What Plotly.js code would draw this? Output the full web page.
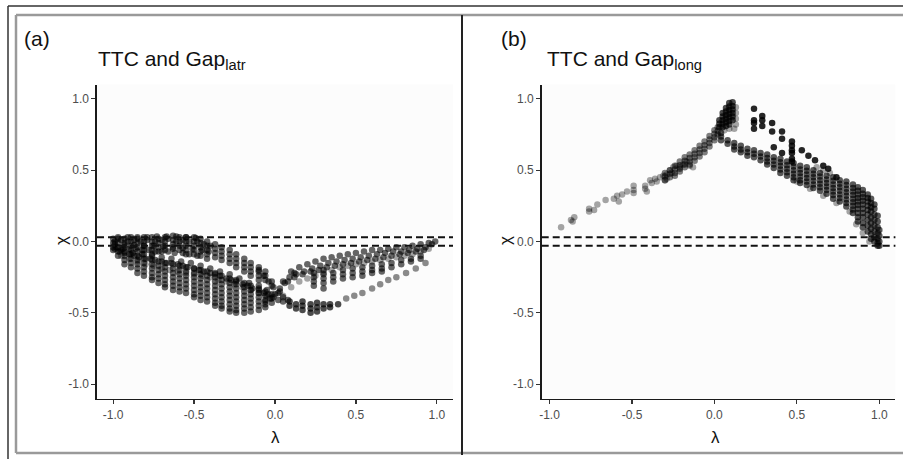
<!DOCTYPE html>
<html>
<head>
<meta charset="utf-8">
<script src="https://cdn.plot.ly/plotly-3.0.1.min.js"></script>
<style>html,body{margin:0;padding:0;background:#fff;}#chart{width:903px;height:459px;}</style>
</head>
<body>
<div id="chart"></div>
<script>
// ---------- Panel (a): TTC and Gap_latr ----------
const aColLambda = [-1.00,-0.97,-0.93,-0.89,-0.85,-0.81,-0.76,-0.72,-0.68,-0.63,-0.59,-0.55,-0.50,-0.46,-0.42,-0.37,-0.33,-0.28,-0.24,-0.19,-0.15,-0.10,-0.06,-0.02];
const aColChi = [
 [0.02,-0.01,-0.04,-0.06],
 [0.02,-0.01,-0.04,-0.07,-0.10],
 [0.02,-0.01,-0.04,-0.07,-0.10,-0.13,-0.16],
 [0.03,0.00,-0.03,-0.06,-0.09,-0.12,-0.15,-0.18],
 [0.02,-0.01,-0.04,-0.07,-0.10,-0.13,-0.16,-0.19,-0.22],
 [0.03,0.00,-0.03,-0.06,-0.09,-0.12,-0.15,-0.18,-0.21,-0.24],
 [0.03,0.00,-0.03,-0.06,-0.09,-0.13,-0.16,-0.19,-0.22,-0.25,-0.27],
 [0.02,-0.01,-0.04,-0.07,-0.14,-0.17,-0.20,-0.23,-0.26,-0.29],
 [0.03,0.00,-0.03,-0.06,-0.15,-0.18,-0.21,-0.24,-0.27,-0.30,-0.32],
 [0.04,0.01,-0.02,-0.05,-0.16,-0.19,-0.22,-0.25,-0.28,-0.31,-0.34],
 [0.03,0.00,-0.03,-0.06,-0.17,-0.20,-0.23,-0.26,-0.29,-0.32,-0.35],
 [0.03,0.00,-0.03,-0.06,-0.09,-0.18,-0.21,-0.24,-0.27,-0.30,-0.33,-0.36],
 [0.03,0.00,-0.03,-0.06,-0.09,-0.19,-0.22,-0.25,-0.28,-0.31,-0.34,-0.37,-0.39],
 [0.02,-0.01,-0.04,-0.07,-0.10,-0.20,-0.23,-0.26,-0.29,-0.32,-0.35,-0.38,-0.41],
 [0.00,-0.03,-0.06,-0.09,-0.12,-0.21,-0.24,-0.27,-0.30,-0.33,-0.36,-0.39,-0.42],
 [-0.02,-0.05,-0.08,-0.11,-0.22,-0.25,-0.28,-0.31,-0.34,-0.37,-0.40,-0.43,-0.45],
 [-0.04,-0.07,-0.10,-0.13,-0.24,-0.27,-0.30,-0.33,-0.36,-0.39,-0.42,-0.45,-0.47],
 [-0.06,-0.09,-0.12,-0.15,-0.26,-0.29,-0.32,-0.35,-0.38,-0.41,-0.44,-0.47,-0.49],
 [-0.09,-0.12,-0.15,-0.18,-0.27,-0.30,-0.33,-0.36,-0.39,-0.42,-0.45,-0.48,-0.50],
 [-0.12,-0.15,-0.18,-0.21,-0.29,-0.32,-0.35,-0.38,-0.41,-0.44,-0.47,-0.50],
 [-0.15,-0.18,-0.21,-0.24,-0.31,-0.34,-0.37,-0.40,-0.43,-0.46,-0.49],
 [-0.18,-0.21,-0.24,-0.27,-0.33,-0.36,-0.39,-0.42,-0.45,-0.48],
 [-0.21,-0.24,-0.27,-0.35,-0.38,-0.41,-0.44,-0.46],
 [-0.28,-0.31,-0.37,-0.40,-0.43]
];
const aTopBand = [[-0.99,0.00],[-0.95,0.01],[-0.91,0.00],[-0.87,0.01],[-0.83,0.00],[-0.79,0.01],[-0.74,0.00],[-0.70,0.01],[-0.66,0.02],[-0.61,0.00],[-0.57,0.01],[-0.53,0.00],[-0.48,0.00],[-0.44,-0.02],[-0.40,-0.03],
 [-0.98,-0.04],[-0.94,-0.05],[-0.90,-0.05],[-0.86,-0.05],[-0.82,-0.06],[-0.78,-0.06],[-0.74,-0.07],[-0.70,-0.07],[-0.66,-0.07],[-0.62,-0.08],[-0.57,-0.08],[-0.53,-0.09],[-0.48,-0.10],
 [-0.97,0.03],[-0.91,0.03],[-0.85,0.03],[-0.79,0.03],[-0.73,0.035],[-0.67,0.035],[-0.61,0.035],[-0.55,0.03],[-0.49,0.025],
 [-0.99,-0.02],[-0.93,-0.025],[-0.87,-0.025],[-0.81,-0.03],[-0.75,-0.03],[-0.69,-0.035],[-0.63,-0.04],[-0.57,-0.045],[-0.51,-0.05],[-0.45,-0.06],[-0.41,-0.07]];
const aMidCurve = [[-0.99,-0.05],[-0.96,-0.07],[-0.93,-0.08],[-0.90,-0.09],[-0.87,-0.10],[-0.84,-0.11],[-0.80,-0.12],[-0.77,-0.12],[-0.74,-0.13],[-0.70,-0.14],[-0.67,-0.15],[-0.64,-0.15],[-0.60,-0.16],[-0.57,-0.17],[-0.54,-0.18],[-0.50,-0.19],[-0.47,-0.20],[-0.44,-0.21],[-0.40,-0.22],[-0.37,-0.23],[-0.34,-0.24],[-0.30,-0.26],[-0.27,-0.27],[-0.24,-0.28],[-0.20,-0.30],[-0.17,-0.31],[-0.14,-0.33],[-0.10,-0.34],[-0.07,-0.36],[-0.04,-0.37],[-0.01,-0.39],
 [-0.95,-0.06],[-0.88,-0.08],[-0.82,-0.09],[-0.76,-0.10],[-0.70,-0.11],[-0.64,-0.12],[-0.58,-0.14],[-0.52,-0.15],[-0.46,-0.17],[-0.40,-0.19],[-0.34,-0.21],[-0.28,-0.23],[-0.22,-0.26],[-0.16,-0.29],[-0.10,-0.31],[-0.05,-0.34]];
const aGrayCurve = [[-0.95,-0.10],[-0.90,-0.12],[-0.85,-0.14],[-0.80,-0.16],[-0.75,-0.17],[-0.70,-0.19],[-0.65,-0.20],[-0.60,-0.21],[-0.55,-0.22],[-0.50,-0.23],[-0.45,-0.24],[-0.40,-0.25],[-0.35,-0.27],[-0.30,-0.28],[-0.25,-0.30],[-0.20,-0.32],[-0.15,-0.34],[-0.10,-0.36],[-0.05,-0.38]];
const aCross = [[-0.10,-0.20],[-0.07,-0.24],[-0.04,-0.28],[-0.01,-0.32],[0.02,-0.36],[0.05,-0.39],[0.08,-0.41],
 [-0.06,-0.42],[-0.03,-0.40],[0.00,-0.37],[0.03,-0.33],[0.06,-0.29],[0.09,-0.25],[0.12,-0.22],[0.02,-0.41],[0.05,-0.42]];
const aRightBand = [[0.05,-0.28],[0.10,-0.21],[0.15,-0.18],[0.20,-0.16],[0.25,-0.14],[0.30,-0.12],[0.35,-0.11],[0.40,-0.10],[0.45,-0.09],[0.50,-0.08],[0.55,-0.07],[0.60,-0.06],[0.65,-0.06],[0.70,-0.05],[0.75,-0.04],[0.80,-0.04],[0.85,-0.03],[0.90,-0.02],[0.95,-0.01],[0.99,0.00],
 [0.03,-0.35],[0.08,-0.28],[0.13,-0.23],[0.18,-0.21],[0.23,-0.19],[0.28,-0.17],[0.33,-0.15],[0.38,-0.14],[0.43,-0.13],[0.48,-0.12],[0.53,-0.11],[0.58,-0.10],[0.63,-0.09],[0.68,-0.08],[0.73,-0.07],[0.78,-0.07],[0.83,-0.06],[0.88,-0.05],[0.93,-0.04],[0.97,-0.02],
 [0.12,-0.25],[0.17,-0.23],[0.22,-0.21],[0.27,-0.20],[0.32,-0.18],[0.37,-0.17],[0.42,-0.16],[0.47,-0.15],[0.52,-0.14],[0.57,-0.13],[0.62,-0.12],[0.67,-0.11],[0.72,-0.10],[0.77,-0.09],[0.82,-0.08],[0.87,-0.07],[0.92,-0.06]];
const aRightGray = [[0.05,-0.38],[0.10,-0.32],[0.15,-0.28],[0.20,-0.26],[0.25,-0.24],[0.30,-0.22],[0.35,-0.20],[0.40,-0.18],[0.45,-0.17],[0.50,-0.16],[0.55,-0.15],[0.60,-0.14],[0.65,-0.13],[0.70,-0.12],[0.75,-0.11],[0.80,-0.10],[0.85,-0.09],[0.90,-0.07],[0.95,-0.05]];
const aRColLambda = [0.24,0.30,0.36,0.42,0.48,0.54,0.60,0.66,0.72,0.78,0.84,0.90];
const aRColChi = [[-0.22,-0.25,-0.28,-0.31],[-0.20,-0.23,-0.26,-0.29,-0.33],[-0.22,-0.25,-0.28],[-0.20,-0.23,-0.26],[-0.19,-0.22,-0.25],[-0.18,-0.21,-0.24],[-0.17,-0.20,-0.22],[-0.16,-0.19,-0.21],[-0.15,-0.18],[-0.13,-0.16],[-0.12,-0.14],[-0.10,-0.12]];
const aLowLambda = [0.09,0.13,0.17,0.22,0.26,0.30,0.34,0.39];
const aLowChi = [[-0.42,-0.45],[-0.44,-0.47],[-0.42,-0.45,-0.48],[-0.44,-0.47,-0.50],[-0.43,-0.46,-0.49],[-0.44,-0.47],[-0.44,-0.46],[-0.44]];
const aLowTrail = [[0.44,-0.40],[0.49,-0.38],[0.54,-0.36],[0.60,-0.33],[0.65,-0.30],[0.70,-0.27],[0.75,-0.25],[0.81,-0.22],[0.87,-0.19],[0.93,-0.15]];

// ---------- Panel (b): TTC and Gap_long ----------
const bLeftSparse = [[-0.93,0.10],[-0.87,0.15],[-0.86,0.14],[-0.85,0.17],[-0.76,0.23],[-0.76,0.21],[-0.73,0.22],[-0.71,0.26],[-0.66,0.29],[-0.61,0.30],[-0.59,0.32],[-0.58,0.28],[-0.56,0.33],[-0.53,0.35],[-0.49,0.36],[-0.49,0.39],[-0.49,0.34],[-0.42,0.37],[-0.42,0.39],[-0.41,0.35],[-0.39,0.43],[-0.38,0.41],[-0.36,0.44],[-0.35,0.42],[-0.33,0.45],[-0.31,0.46],[-0.30,0.43],[-0.29,0.47],[-0.29,0.44],[-0.27,0.50],[-0.26,0.48],[-0.25,0.52],[-0.23,0.53],[-0.21,0.52],[-0.19,0.54],[-0.17,0.56],[-0.15,0.53],[-0.13,0.52]];
const bRiseLambda = [-0.30,-0.27,-0.24,-0.21,-0.18,-0.15,-0.12,-0.09,-0.06,-0.03,0.00,0.02];
const bRiseChi = [[0.48,0.455,0.43],[0.50,0.475,0.45],[0.53,0.505,0.48,0.46],[0.56,0.535,0.51,0.49],[0.59,0.565,0.54,0.52],[0.61,0.585,0.56,0.54],[0.64,0.615,0.59,0.565],[0.67,0.645,0.62,0.595],[0.70,0.675,0.65,0.625],[0.74,0.715,0.69,0.665],[0.78,0.755,0.73,0.71],[0.80,0.775,0.75]];
const bPeakLambda = [0.03,0.05,0.07,0.09,0.11];
const bPeakChi = [[0.80,0.825,0.85],[0.80,0.825,0.85,0.875,0.90],[0.81,0.835,0.86,0.885,0.91,0.935],[0.82,0.845,0.87,0.895,0.92,0.945,0.97],[0.85,0.875,0.90,0.925,0.95,0.975]];
const bPeakGray = [[0.13,0.82],[0.13,0.86],[0.13,0.90],[0.13,0.94],[0.12,0.79],[0.06,0.78],[0.09,0.79]];
const bFallLambda = [0.04,0.08,0.12,0.16,0.20,0.24,0.28,0.32,0.36,0.40,0.44,0.48,0.52,0.56,0.60,0.64,0.68,0.72,0.76,0.80,0.84,0.87,0.90,0.93,0.95,0.97,0.99,1.00];
const bFallChi = [
 [0.76,0.735,0.71],[0.71,0.685],[0.69,0.665,0.645],[0.67,0.645,0.625],[0.65,0.625,0.60],[0.64,0.615,0.59],[0.62,0.595,0.57],
 [0.61,0.585,0.56,0.54],[0.59,0.565,0.54,0.515],[0.58,0.555,0.53,0.505,0.48],[0.56,0.535,0.51,0.485,0.46],
 [0.55,0.525,0.50,0.475,0.45,0.43],[0.53,0.505,0.48,0.455,0.43,0.41],[0.52,0.495,0.47,0.445,0.42,0.395],
 [0.50,0.475,0.45,0.425,0.40,0.375],[0.48,0.455,0.43,0.405,0.38,0.355],[0.46,0.435,0.41,0.385,0.36,0.335],
 [0.45,0.425,0.40,0.375,0.35,0.325,0.30],[0.43,0.405,0.38,0.355,0.33,0.305,0.28],[0.42,0.395,0.37,0.345,0.32,0.295,0.27,0.245],
 [0.40,0.375,0.35,0.325,0.30,0.275,0.25,0.225,0.20],[0.38,0.355,0.33,0.305,0.28,0.255,0.23,0.20,0.17,0.14],
 [0.36,0.335,0.31,0.285,0.26,0.23,0.20,0.17,0.13,0.10],[0.33,0.305,0.28,0.25,0.22,0.19,0.15,0.11,0.07],
 [0.30,0.27,0.24,0.21,0.17,0.13,0.09,0.05,0.02],[0.26,0.23,0.19,0.15,0.11,0.07,0.03,0.00],
 [0.18,0.14,0.10,0.06,0.02,-0.01,-0.03],[0.08,0.04,0.00,-0.03]
];
const bFallGray = [[0.50,0.42],[0.58,0.37],[0.66,0.32],[0.74,0.27],[0.82,0.21],[0.86,0.12],[0.90,0.06],[0.94,0.00],[0.62,0.52],[0.66,0.50],[0.70,0.48]];
const bSparse = [[0.24,0.93],[0.24,0.85],[0.24,0.83],[0.24,0.79],[0.29,0.88],[0.29,0.85],[0.29,0.81],[0.35,0.83],[0.35,0.77],[0.41,0.77],[0.41,0.72],[0.41,0.62],[0.47,0.70],[0.47,0.67],[0.47,0.64],[0.47,0.62],[0.47,0.58],[0.47,0.56],[0.36,0.66],[0.53,0.64],[0.57,0.60],[0.61,0.57],[0.66,0.53],[0.69,0.51],[0.74,0.45]];

const tickVals = [-1, -0.5, 0, 0.5, 1];
const tickText = ['-1.0', '-0.5', '0.0', '0.5', '1.0'];

// ---------- helpers ----------
function fromCols(lams, chis){ const x=[],y=[]; lams.forEach((l,i)=>chis[i].forEach(c=>{x.push(l);y.push(c);})); return {x,y}; }
function fromPairs(p){ return {x:p.map(d=>d[0]), y:p.map(d=>d[1])}; }
function pts(d, xa, ya, alpha){
  return {type:'scatter', mode:'markers', x:d.x, y:d.y, xaxis:xa, yaxis:ya, hoverinfo:'skip',
    marker:{size:6.5, color:'rgba(0,0,0,'+alpha+')', line:{width:0}}, showlegend:false};
}
const DARK = 0.6, GRAY = 0.35;
const traces = [
  pts(fromCols(aColLambda, aColChi), 'x', 'y', DARK),
  pts(fromPairs(aTopBand), 'x', 'y', DARK),
  pts(fromPairs(aMidCurve), 'x', 'y', DARK),
  pts(fromPairs(aGrayCurve), 'x', 'y', GRAY),
  pts(fromPairs(aCross), 'x', 'y', DARK),
  pts(fromPairs(aRightBand), 'x', 'y', DARK),
  pts(fromPairs(aRightGray), 'x', 'y', GRAY),
  pts(fromCols(aRColLambda, aRColChi), 'x', 'y', DARK),
  pts(fromCols(aLowLambda, aLowChi), 'x', 'y', 0.7),
  pts(fromPairs(aLowTrail), 'x', 'y', 0.45),
  pts(fromPairs(bLeftSparse), 'x2', 'y2', GRAY),
  pts(fromCols(bRiseLambda, bRiseChi), 'x2', 'y2', 0.5),
  pts(fromCols(bPeakLambda, bPeakChi), 'x2', 'y2', 0.7),
  pts(fromPairs(bPeakGray), 'x2', 'y2', GRAY),
  pts(fromCols(bFallLambda, bFallChi), 'x2', 'y2', 0.65),
  pts(fromPairs(bFallGray), 'x2', 'y2', GRAY),
  pts(fromPairs(bSparse), 'x2', 'y2', 0.85)
];

const W = 903, H = 459;
const px = v => v / W, py = v => 1 - v / H;
const FONT = '"Liberation Sans", Arial, sans-serif';

function axis(domain, range, anchor){
  return {domain:domain, range:range, anchor:anchor, showline:true, linecolor:'#1a1a1a', linewidth:1.6,
    ticks:'outside', ticklen:4, tickwidth:1.2, tickcolor:'#333', tickvals:tickVals, ticktext:tickText,
    tickfont:{family:FONT, size:12, color:'#4d4d4d'}, showgrid:false, zeroline:false, fixedrange:true};
}
const yDom = [(H-398.5)/H, (H-84.5)/H];

function hline(xr, yr, v){
  return {type:'line', xref:xr+' domain', yref:yr, x0:0, x1:1, y0:v, y1:v, line:{color:'#111', width:2, dash:'7px,4px'}};
}
function pline(x0,y0,x1,y1,color,width){
  return {type:'line', xref:'paper', yref:'paper', x0:px(x0), y0:py(y0), x1:px(x1), y1:py(y1), line:{color:color, width:width}};
}
function ann(x, y, text, size, opts){
  return Object.assign({xref:'paper', yref:'paper', x:px(x), y:py(y), text:text, showarrow:false,
    xanchor:'left', yanchor:'middle', font:{family:FONT, size:size, color:'#111'}}, opts||{});
}

const layout = {
  width:W, height:H, margin:{l:0,r:0,t:0,b:0}, paper_bgcolor:'#ffffff', plot_bgcolor:'#fcfcfc',
  showlegend:false,
  xaxis: axis([px(97), px(453)], [-1.1, 1.1], 'y'),
  yaxis: axis(yDom, [-1.1, 1.1], 'x'),
  xaxis2: axis([px(541.7), px(895.4)], [-1.0475, 1.0975], 'y2'),
  yaxis2: axis(yDom, [-1.1, 1.1], 'x2'),
  shapes: [
    hline('x','y',0.03), hline('x','y',-0.03), hline('x2','y2',0.03), hline('x2','y2',-0.03),
    pline(8,6,903,6,'#333',1.5), pline(8,6,8,459,'#333',1.5),
    pline(16,15,903,15,'#9a9a9a',2.5), pline(16,15,16,453,'#9a9a9a',2.5), pline(16,453,903,453,'#9a9a9a',2.5),
    pline(462,15,462,455,'#222',2)
  ],
  annotations: [
    ann(22, 38, '(a)', 21),
    ann(96, 60, 'TTC and Gap<sub>latr</sub>', 21),
    ann(499, 38, '(b)', 21),
    ann(545, 60, 'TTC and Gap<sub>long</sub>', 21),
    ann(275, 437, 'λ', 17, {xanchor:'center'}),
    ann(715, 437, 'λ', 17, {xanchor:'center'}),
    ann(62, 241, 'χ', 17, {xanchor:'center', textangle:-90}),
    ann(506, 241, 'χ', 17, {xanchor:'center', textangle:-90})
  ]
};

Plotly.newPlot('chart', traces, layout, {staticPlot:true, displayModeBar:false});
</script>
</body>
</html>
